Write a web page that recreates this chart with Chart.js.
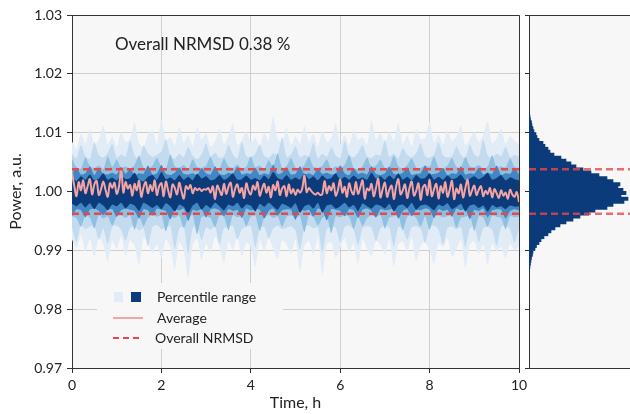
<!DOCTYPE html>
<html>
<head>
<meta charset="utf-8">
<script src="https://cdn.jsdelivr.net/npm/chart.js@4.4.1/dist/chart.umd.min.js"></script>
<style>
  body { margin: 0; background: #fff; }
  #wrap { position: relative; width: 630px; height: 414px; overflow: hidden; }
  #mainChart { position: absolute; left: 0; top: 0; }
  #histChart { position: absolute; left: 525px; top: 0; }
</style>
</head>
<body>
<div id="wrap">
  <canvas id="mainChart" width="535" height="414"></canvas>
  <canvas id="histChart" width="105" height="414"></canvas>
</div>
<script>
// all series are deviations from 1.000, in units of 1e-3 a.u.
const bandHours = [];
for (let i = 0; i <= 100; i++) bandHours.push(i / 10);
const avgHours = [];
for (let i = 0; i <= 200; i++) avgHours.push(i / 20);

const band1Upper = [
  8.5, 7.2, 9.8, 8.1, 10.6, 7.9, 8.8, 11.2, 8.0, 9.3,
  7.6, 10.1, 8.4, 9.0, 11.8, 8.2, 7.5, 9.6, 10.4, 8.1,
  12.3, 8.6, 9.2, 7.8, 10.9, 8.3, 9.5, 7.7, 11.0, 8.8,
  9.9, 7.6, 8.5, 10.7, 8.0, 9.4, 11.5, 7.9, 8.7, 10.2,
  8.3, 9.1, 7.7, 10.0, 8.6, 12.8, 9.0, 8.2, 10.8, 7.9,
  9.4, 8.1, 11.1, 8.5, 9.8, 7.6, 10.3, 8.4, 9.1, 11.6,
  8.0, 9.6, 7.8, 10.5, 8.7, 9.2, 7.9, 12.1, 8.8, 9.9,
  8.2, 10.2, 8.6, 11.7, 8.1, 9.5, 7.7, 10.6, 8.9, 9.0,
  11.9, 8.3, 9.7, 8.0, 10.4, 8.6, 9.3, 11.2, 7.8, 8.9,
  10.1, 8.4, 9.6, 12.0, 8.2, 9.0, 10.7, 8.1, 9.4, 8.6, 8.0
];
const band1Lower = [
  -8.2, -9.6, -7.4, -10.3, -8.0, -11.2, -7.8, -9.1, -12.0, -8.4,
  -9.8, -7.6, -10.9, -8.3, -9.2, -12.6, -7.9, -8.8, -10.5, -9.0,
  -11.4, -8.1, -9.5, -13.2, -8.6, -10.0, -14.8, -9.1, -8.0, -11.7,
  -8.9, -10.4, -7.7, -9.3, -12.2, -8.5, -9.9, -7.8, -11.0, -8.7,
  -9.4, -12.9, -8.2, -10.1, -7.9, -9.7, -11.5, -8.3, -9.0, -10.6,
  -8.1, -13.6, -9.3, -8.4, -10.8, -7.7, -14.2, -9.0, -8.6, -11.3,
  -9.5, -7.9, -10.2, -8.8, -12.4, -8.0, -9.7, -11.0, -8.4, -9.1,
  -10.7, -8.2, -12.8, -9.0, -8.5, -10.3, -7.8, -11.9, -9.2, -8.6,
  -10.0, -12.3, -8.7, -9.5, -7.9, -11.1, -9.8, -8.3, -13.0, -9.1,
  -8.4, -10.6, -9.0, -12.5, -8.8, -10.2, -9.4, -11.4, -8.9, -10.0, -9.2
];
const band2Upper = [
  6.4, 5.6, 7.9, 6.0, 5.5, 8.4, 6.2, 5.8, 6.6, 8.1,
  5.7, 6.3, 5.9, 8.7, 6.1, 5.4, 7.8, 6.5, 5.9, 6.2,
  6.8, 8.9, 6.0, 5.6, 6.4, 5.8, 7.6, 6.1, 5.5, 6.3,
  8.2, 5.9, 6.6, 5.7, 6.0, 7.9, 6.3, 5.6, 8.5, 6.0,
  5.8, 6.4, 8.0, 6.1, 5.7, 6.5, 6.2, 9.2, 5.9, 6.3,
  7.7, 5.8, 6.2, 6.0, 8.3, 5.6, 6.4, 5.9, 7.5, 6.1,
  5.7, 8.6, 6.2, 5.8, 6.6, 7.9, 6.0, 5.7, 6.3, 6.1,
  8.8, 5.9, 6.4, 5.6, 7.4, 6.2, 5.8, 6.5, 8.2, 6.0,
  5.7, 6.3, 8.4, 6.1, 5.8, 6.0, 7.7, 6.2, 5.6, 8.0,
  6.3, 5.9, 8.9, 6.1, 5.7, 6.4, 6.0, 7.6, 5.8, 6.2, 5.9
];
const band2Lower = [
  -6.1, -8.6, -5.8, -6.4, -6.0, -5.7, -8.2, -6.3, -9.0, -6.0,
  -5.8, -6.5, -8.4, -6.1, -5.9, -6.6, -6.2, -9.3, -6.0, -5.7,
  -6.4, -6.1, -5.9, -9.8, -6.3, -6.0, -10.6, -6.2, -5.8, -8.3,
  -6.1, -6.5, -5.9, -9.0, -6.2, -6.0, -5.8, -8.1, -6.4, -6.0,
  -5.9, -9.5, -6.2, -6.0, -8.0, -6.3, -5.8, -6.4, -6.1, -5.9,
  -6.6, -9.9, -6.1, -5.8, -6.3, -6.0, -10.3, -6.4, -5.9, -6.2,
  -8.7, -6.0, -5.8, -6.5, -9.1, -6.2, -5.9, -6.1, -8.4, -6.3,
  -5.8, -6.2, -9.4, -6.0, -6.4, -8.2, -6.1, -5.9, -6.3, -8.8,
  -6.0, -5.8, -6.5, -9.0, -6.2, -5.9, -6.4, -6.0, -9.5, -6.3,
  -5.9, -8.6, -6.2, -6.0, -6.5, -9.2, -6.1, -5.8, -6.4, -8.7, -6.3
];
const band3Upper = [
  5.6, 4.1, 3.9, 5.8, 4.3, 4.0, 4.4, 3.8, 6.0, 4.2,
  5.4, 4.0, 4.3, 3.9, 4.5, 6.1, 4.1, 3.8, 4.4, 5.7,
  4.2, 3.9, 6.3, 4.3, 4.0, 4.5, 3.8, 5.5, 4.2, 4.0,
  4.4, 5.9, 4.1, 3.9, 5.6, 4.3, 4.0, 4.6, 3.9, 4.2,
  6.0, 4.1, 4.4, 3.8, 5.3, 4.2, 6.5, 4.0, 4.3, 5.7,
  4.1, 3.9, 4.5, 5.9, 4.2, 4.0, 4.4, 5.5, 3.9, 4.3,
  4.1, 4.5, 6.2, 4.0, 3.8, 4.3, 5.8, 4.1, 4.4, 5.4,
  4.0, 4.2, 6.1, 4.3, 3.9, 4.5, 5.6, 4.1, 4.0, 4.4,
  4.2, 6.0, 4.1, 3.9, 4.4, 5.7, 4.2, 4.0, 5.9, 4.3,
  4.1, 4.5, 3.9, 4.2, 6.2, 4.0, 4.3, 4.1, 5.6, 4.2, 4.0
];
const band3Lower = [
  -4.2, -4.5, -6.0, -4.1, -4.4, -6.3, -4.0, -4.6, -4.2, -5.8,
  -4.3, -4.1, -4.5, -4.0, -6.5, -4.2, -5.9, -4.4, -4.1, -4.3,
  -4.0, -6.8, -4.3, -4.5, -4.1, -6.2, -4.4, -4.0, -7.3, -4.3,
  -4.2, -4.5, -6.1, -4.1, -4.3, -6.6, -4.0, -4.4, -4.2, -5.9,
  -4.3, -4.1, -6.7, -4.4, -4.0, -4.5, -4.2, -6.0, -4.3, -4.1,
  -4.4, -4.2, -6.9, -4.0, -4.3, -5.8, -4.5, -4.1, -7.1, -4.2,
  -4.4, -4.0, -4.3, -6.4, -4.2, -5.9, -4.5, -4.1, -4.3, -4.0,
  -6.3, -4.4, -4.2, -4.1, -6.6, -4.3, -4.0, -4.5, -6.0, -4.2,
  -6.5, -4.3, -4.1, -4.4, -4.2, -4.0, -6.2, -4.5, -4.3, -4.1,
  -6.7, -4.2, -4.4, -6.0, -4.1, -4.3, -4.5, -6.4, -4.2, -4.4, -4.3
];
const band4Upper = [
  3.0, 4.1, 2.9, 3.1, 4.3, 2.8, 4.0, 3.0, 2.9, 3.2,
  2.9, 4.2, 3.0, 3.9, 2.8, 3.1, 3.0, 4.4, 2.9, 3.1,
  4.5, 3.0, 2.8, 3.2, 4.1, 3.0, 2.9, 3.1, 2.8, 4.0,
  3.1, 2.9, 4.3, 3.0, 2.8, 3.2, 3.0, 4.2, 2.9, 3.1,
  3.0, 4.0, 2.8, 3.1, 2.9, 4.6, 3.0, 3.2, 4.1, 2.9,
  3.0, 4.3, 2.9, 3.1, 2.8, 3.9, 3.0, 3.2, 2.9, 3.0,
  4.4, 3.1, 2.8, 4.0, 3.0, 3.2, 2.9, 4.3, 3.0, 2.8,
  3.1, 4.2, 3.0, 2.9, 3.2, 4.1, 2.8, 3.0, 3.1, 4.4,
  2.9, 3.0, 3.2, 4.0, 2.8, 3.1, 3.0, 4.3, 2.9, 3.1,
  3.0, 4.1, 2.9, 3.2, 3.0, 4.4, 2.8, 3.1, 3.0, 4.0, 2.9
];
const band4Lower = [
  -4.2, -3.0, -3.2, -4.4, -3.1, -2.9, -3.3, -4.0, -3.1, -3.0,
  -4.3, -3.2, -2.9, -3.1, -3.3, -4.6, -3.0, -3.2, -4.1, -2.9,
  -3.1, -3.3, -4.7, -3.0, -3.2, -2.9, -5.0, -3.1, -3.3, -3.0,
  -4.4, -3.1, -2.9, -3.2, -4.2, -3.0, -3.3, -3.1, -4.5, -2.9,
  -3.2, -3.0, -3.1, -4.6, -3.3, -2.9, -4.1, -3.2, -3.0, -3.1,
  -4.8, -3.0, -3.3, -3.1, -4.3, -2.9, -3.2, -4.9, -3.0, -3.1,
  -3.3, -4.2, -3.0, -3.2, -4.5, -3.1, -2.9, -3.3, -4.4, -3.0,
  -3.2, -3.1, -2.9, -4.6, -3.3, -3.0, -4.2, -3.1, -3.2, -2.9,
  -3.1, -4.5, -3.0, -3.3, -3.1, -4.3, -2.9, -3.2, -3.0, -4.7,
  -3.1, -3.3, -2.9, -4.4, -3.2, -3.0, -3.1, -4.6, -3.3, -3.0, -3.2
];
const band5Upper = [
  2.4, 1.8, 2.6, 2.0, 2.9, 1.9, 2.2, 3.1, 2.0, 2.4,
  1.9, 2.7, 2.1, 2.3, 3.2, 2.0, 1.7, 2.5, 2.8, 2.0,
  3.3, 2.1, 2.4, 1.9, 2.8, 2.0, 2.5, 1.9, 3.0, 2.2,
  2.6, 1.9, 2.1, 2.8, 2.0, 2.4, 3.1, 2.0, 2.1, 2.7,
  2.0, 2.3, 1.9, 2.7, 2.1, 3.3, 2.3, 2.0, 2.8, 2.0,
  2.4, 2.0, 3.0, 2.1, 2.6, 1.9, 2.7, 2.1, 2.3, 3.1,
  2.0, 2.5, 2.0, 2.7, 2.1, 2.4, 2.0, 3.2, 2.2, 2.6,
  2.0, 2.7, 2.1, 3.1, 2.0, 2.5, 1.9, 2.8, 2.2, 2.3,
  3.1, 2.0, 2.5, 2.0, 2.7, 2.1, 2.3, 2.9, 1.9, 2.2,
  2.6, 2.1, 2.5, 3.2, 2.0, 2.3, 2.8, 1.9, 2.4, 2.1, 1.9
];
const band5Lower = [
  -2.1, -2.5, -1.9, -2.7, -2.0, -3.0, -1.9, -2.4, -3.2, -2.2,
  -2.5, -1.9, -2.9, -2.1, -2.4, -3.3, -1.9, -2.3, -2.8, -2.3,
  -3.0, -2.0, -2.5, -3.4, -2.2, -2.6, -3.7, -2.4, -1.9, -3.1,
  -2.3, -2.8, -1.9, -2.5, -3.2, -2.2, -2.5, -1.9, -2.9, -2.2,
  -2.4, -3.4, -2.1, -2.6, -1.9, -2.5, -3.1, -2.1, -2.4, -2.8,
  -2.0, -3.6, -2.5, -2.2, -2.9, -1.9, -3.6, -2.4, -2.2, -2.9,
  -2.5, -1.9, -2.7, -2.3, -3.3, -2.0, -2.5, -2.9, -2.2, -2.4,
  -2.9, -2.1, -3.4, -2.4, -2.2, -2.8, -1.9, -3.1, -2.4, -2.2,
  -2.6, -3.2, -2.2, -2.5, -2.0, -3.0, -2.6, -2.1, -3.4, -2.4,
  -2.2, -2.8, -2.4, -3.4, -2.3, -2.7, -2.5, -3.0, -2.4, -2.6, -2.5
];
const averageDev = [
  3.2, 1.0, -0.8, 1.6, 0.2, 1.9, -0.3, 0.9, 2.1, -0.5, 1.2, 1.8, -0.6, 0.4, 1.7, 0.3, -0.9, 1.4, 0.6, 1.5,
  -0.4, 0.8, 3.9, -0.2, 1.6, 0.5, 1.1, -0.7, 1.3, 0.2, 1.8, -0.9, 0.7, 1.6, -0.3, 1.1, 0.1, 1.9, -0.6, 0.9,
  1.4, -0.8, 1.7, 0.2, -1.0, 1.2, 0.6, -0.5, 1.5, 0.0, -1.2, 0.9, 0.4, 1.1, -0.3, 0.6, 0.2, 0.5, 0.1, 0.4,
  0.3, 0.6, -0.2, 0.9, -1.3, 1.0, 0.2, -0.6, 1.3, -0.4, 0.8, 1.5, -0.9, 0.5, 1.2, -0.2, 0.6, -1.1, 1.4, 0.1,
  -0.5, 1.0, 0.3, 1.6, -0.7, 0.4, 1.3, -0.2, 0.8, -1.0, 1.1, 0.2, 1.7, -0.6, 0.5, 0.9, -0.8, 1.2, -0.3, 0.4,
  -0.6, 0.3, -0.2, 0.5, 2.7, -0.1, 0.6, 0.1, -0.3, -0.5, -0.2, -0.6, -0.4, 1.8, -0.3, 0.9, 0.2, 1.4, -0.7, 0.3,
  2.0, -0.2, 0.8, -0.9, 1.4, 0.1, -0.5, 1.6, -0.4, 0.7, 1.9, -1.2, 0.5, 0.2, 1.3, -0.8, 0.6, 2.2, -1.0, 0.4,
  1.5, -0.9, 0.3, 1.0, -1.3, 0.8, 2.1, -0.5, 0.2, 1.2, -1.1, 0.6, 1.7, -0.7, 0.1, 1.4, -1.4, 0.7, 1.1, -0.6,
  2.0, -0.8, 0.4, 1.3, -1.2, 0.9, -0.2, 1.6, -0.9, 0.3, 1.8, -1.3, 0.5, -0.3, 1.2, -1.0, 0.6, 2.0, -0.7, 0.2,
  1.0, -0.6, 0.3, 0.9, -0.8, 0.1, -0.4, 0.6, -1.0, 0.4, -0.3, -1.1, 0.2, -0.7, -0.2, -1.2, 0.3, -0.5, -0.9, -0.1,
  -1.8
];

const nrmsdLevels = [1.0038, 0.9962];
const xTicks = [0, 2, 4, 6, 8, 10];
const yTicks = [0.97, 0.98, 0.99, 1.0, 1.01, 1.02, 1.03];

// histogram of power values, bins of 0.0005 starting at 0.9865
const histStart = 0.9865;
const histStep = 0.0005;
const histCounts = [
  0.5, 1, 1.5, 2, 2.5, 3.5, 4, 6, 7.5, 10,
  12, 15, 19, 22, 26, 31, 37, 44, 51, 60,
  66, 78, 84, 95, 99, 92, 97, 94, 89, 91,
  84, 78, 70, 62, 54, 47, 42, 37, 32, 25,
  21, 19, 16, 14, 10, 8, 7, 5, 4, 3,
  2.5, 1.5, 1, 0.5
];

const bandColors = ["#e1ecf7", "#c3daef", "#8fc0e0", "#4287c4", "#0b3b7a"];
const bandSeries = [
  [band1Upper, band1Lower],
  [band2Upper, band2Lower],
  [band3Upper, band3Lower],
  [band4Upper, band4Lower],
  [band5Upper, band5Lower],
];
const plotBg = "#f7f7f7";
const axisColor = "#333333";
const redDash = "#e8474c";
const pink = "#f5a3a3";

Chart.defaults.font.family = "Lato";
Chart.defaults.color = "#222222";

function toPoints(hours, devs) {
  return devs.map(function (d, i) {
    return { x: hours[i], y: 1 + d / 1000 };
  });
}

const panelPlugin = {
  id: "panel",
  beforeDraw: function (chart) {
    const a = chart.chartArea;
    const ctx = chart.ctx;
    ctx.save();
    ctx.fillStyle = plotBg;
    ctx.fillRect(a.left, a.top, a.right - a.left, a.bottom - a.top);
    ctx.restore();
  },
};

function getMainChart() {
  let datasets = [];
  nrmsdLevels.forEach(function (lvl) {
    datasets.push({
      data: [{ x: xTicks[0], y: lvl }, { x: xTicks[xTicks.length - 1], y: lvl }],
      borderColor: redDash,
      borderWidth: 2.5,
      borderDash: [7, 4],
      pointRadius: 0,
      fill: false,
      order: 0,
    });
  });
  datasets.push({
    data: toPoints(avgHours, averageDev),
    borderColor: pink,
    borderWidth: 2,
    pointRadius: 0,
    tension: 0.35,
    fill: false,
    order: 1,
  });
  for (let k = bandSeries.length - 1; k >= 0; k--) {
    const ord = 2 + (bandSeries.length - 1 - k);
    datasets.push({
      data: toPoints(bandHours, bandSeries[k][0]),
      borderColor: "rgba(0,0,0,0)",
      borderWidth: 0,
      backgroundColor: bandColors[k],
      pointRadius: 0,
      tension: 0.2,
      fill: "+1",
      order: ord,
    });
    datasets.push({
      data: toPoints(bandHours, bandSeries[k][1]),
      borderColor: "rgba(0,0,0,0)",
      borderWidth: 0,
      pointRadius: 0,
      tension: 0.2,
      fill: false,
      order: ord,
    });
  }

  const decorPlugin = {
    id: "decor",
    afterDraw: function (chart) {
      const a = chart.chartArea;
      const ctx = chart.ctx;
      ctx.save();
      // top and right frame
      ctx.strokeStyle = axisColor;
      ctx.lineWidth = 1;
      ctx.beginPath();
      ctx.moveTo(a.left, a.top + 0.5);
      ctx.lineTo(a.right + 0.5, a.top + 0.5);
      ctx.lineTo(a.right + 0.5, a.bottom);
      ctx.stroke();

      ctx.fillStyle = "#222222";
      ctx.font = "17px Lato";
      ctx.textBaseline = "alphabetic";
      ctx.fillText("Overall NRMSD 0.38 %", 115, 50);

      // legend
      ctx.fillStyle = plotBg;
      ctx.fillRect(97, 283, 186, 66);
      ctx.fillStyle = bandColors[0];
      ctx.fillRect(114, 292, 9, 10);
      ctx.fillStyle = bandColors[4];
      ctx.fillRect(131, 292, 10, 10);
      ctx.strokeStyle = pink;
      ctx.lineWidth = 2;
      ctx.beginPath();
      ctx.moveTo(113, 318);
      ctx.lineTo(143, 318);
      ctx.stroke();
      ctx.strokeStyle = redDash;
      ctx.setLineDash([6, 4]);
      ctx.beginPath();
      ctx.moveTo(113, 338);
      ctx.lineTo(143, 338);
      ctx.stroke();
      ctx.setLineDash([]);
      ctx.fillStyle = "#222222";
      ctx.font = "14px Lato";
      ctx.textBaseline = "middle";
      ctx.fillText("Percentile range", 157, 297);
      ctx.fillText("Average", 157, 318);
      ctx.fillText("Overall NRMSD", 155, 338);
      ctx.restore();
    },
  };

  new Chart(document.getElementById("mainChart"), {
    type: "line",
    data: { datasets: datasets },
    options: {
      responsive: false,
      animation: false,
      layout: { padding: { top: 15, right: 16, left: 0, bottom: 0 } },
      plugins: { legend: { display: false }, tooltip: { enabled: false } },
      scales: {
        x: {
          type: "linear",
          min: 0,
          max: 10,
          z: 1,
          afterBuildTicks: function (scale) {
            scale.ticks = xTicks.map(function (v) { return { value: v }; });
          },
          afterFit: function (scale) { scale.height = 46; },
          ticks: {
            font: { size: 14 },
            padding: 4,
            maxRotation: 0,
            callback: function (v) { return String(v); },
          },
          grid: { color: "rgba(200,200,200,0.85)", tickColor: axisColor, tickLength: 5 },
          border: { display: true, color: axisColor },
          title: { display: true, text: "Time, h", font: { size: 16 }, padding: { top: 0, bottom: 2 } },
        },
        y: {
          type: "linear",
          min: 0.97,
          max: 1.03,
          z: 1,
          afterBuildTicks: function (scale) {
            scale.ticks = yTicks.map(function (v) { return { value: v }; });
          },
          afterFit: function (scale) { scale.width = 72; },
          ticks: {
            font: { size: 14 },
            padding: 5,
            callback: function (v) { return v.toFixed(2); },
          },
          grid: { color: "rgba(200,200,200,0.85)", tickColor: axisColor, tickLength: 5 },
          border: { display: true, color: axisColor },
          title: { display: true, text: "Power, a.u.", font: { size: 16 }, padding: { top: 6, bottom: 0 } },
        },
      },
    },
    plugins: [panelPlugin, decorPlugin],
  });
}

function getHistChart() {
  const bars = histCounts.map(function (c, i) {
    return { x: c, y: histStart + histStep * (i + 0.5) };
  });
  let datasets = [{
    type: "bar",
    data: bars,
    backgroundColor: "#0b3b7a",
    borderWidth: 0,
    barThickness: 3.3,
    order: 1,
  }];
  nrmsdLevels.forEach(function (lvl) {
    datasets.push({
      type: "line",
      indexAxis: "x",
      data: [{ x: 0, y: lvl }, { x: 101, y: lvl }],
      borderColor: "rgba(232,71,76,0.8)",
      borderWidth: 2.5,
      borderDash: [7, 4],
      pointRadius: 0,
      fill: false,
      order: 0,
    });
  });

  const framePlugin = {
    id: "frame",
    afterDraw: function (chart) {
      const a = chart.chartArea;
      const ctx = chart.ctx;
      ctx.save();
      ctx.strokeStyle = axisColor;
      ctx.lineWidth = 1;
      ctx.beginPath();
      ctx.moveTo(a.left, a.top + 0.5);
      ctx.lineTo(a.right, a.top + 0.5);
      ctx.moveTo(a.left, a.bottom + 0.5);
      ctx.lineTo(a.right, a.bottom + 0.5);
      ctx.stroke();
      ctx.restore();
    },
  };

  new Chart(document.getElementById("histChart"), {
    type: "bar",
    data: { datasets: datasets },
    options: {
      indexAxis: "y",
      responsive: false,
      animation: false,
      layout: { padding: { top: 15, right: 0, left: 0, bottom: 46 } },
      plugins: { legend: { display: false }, tooltip: { enabled: false } },
      scales: {
        x: { type: "linear", min: 0, max: 101, display: false },
        y: {
          type: "linear",
          min: 0.97,
          max: 1.03,
          offset: false,
          afterBuildTicks: function (scale) {
            scale.ticks = yTicks.map(function (v) { return { value: v }; });
          },
          afterFit: function (scale) { scale.width = 4; },
          ticks: { display: false },
          grid: { offset: false, drawOnChartArea: false, tickColor: axisColor, tickLength: 4 },
          border: { display: true, color: axisColor },
        },
      },
    },
    plugins: [panelPlugin, framePlugin],
  });
}

getMainChart();
getHistChart();
</script>
</body>
</html>
